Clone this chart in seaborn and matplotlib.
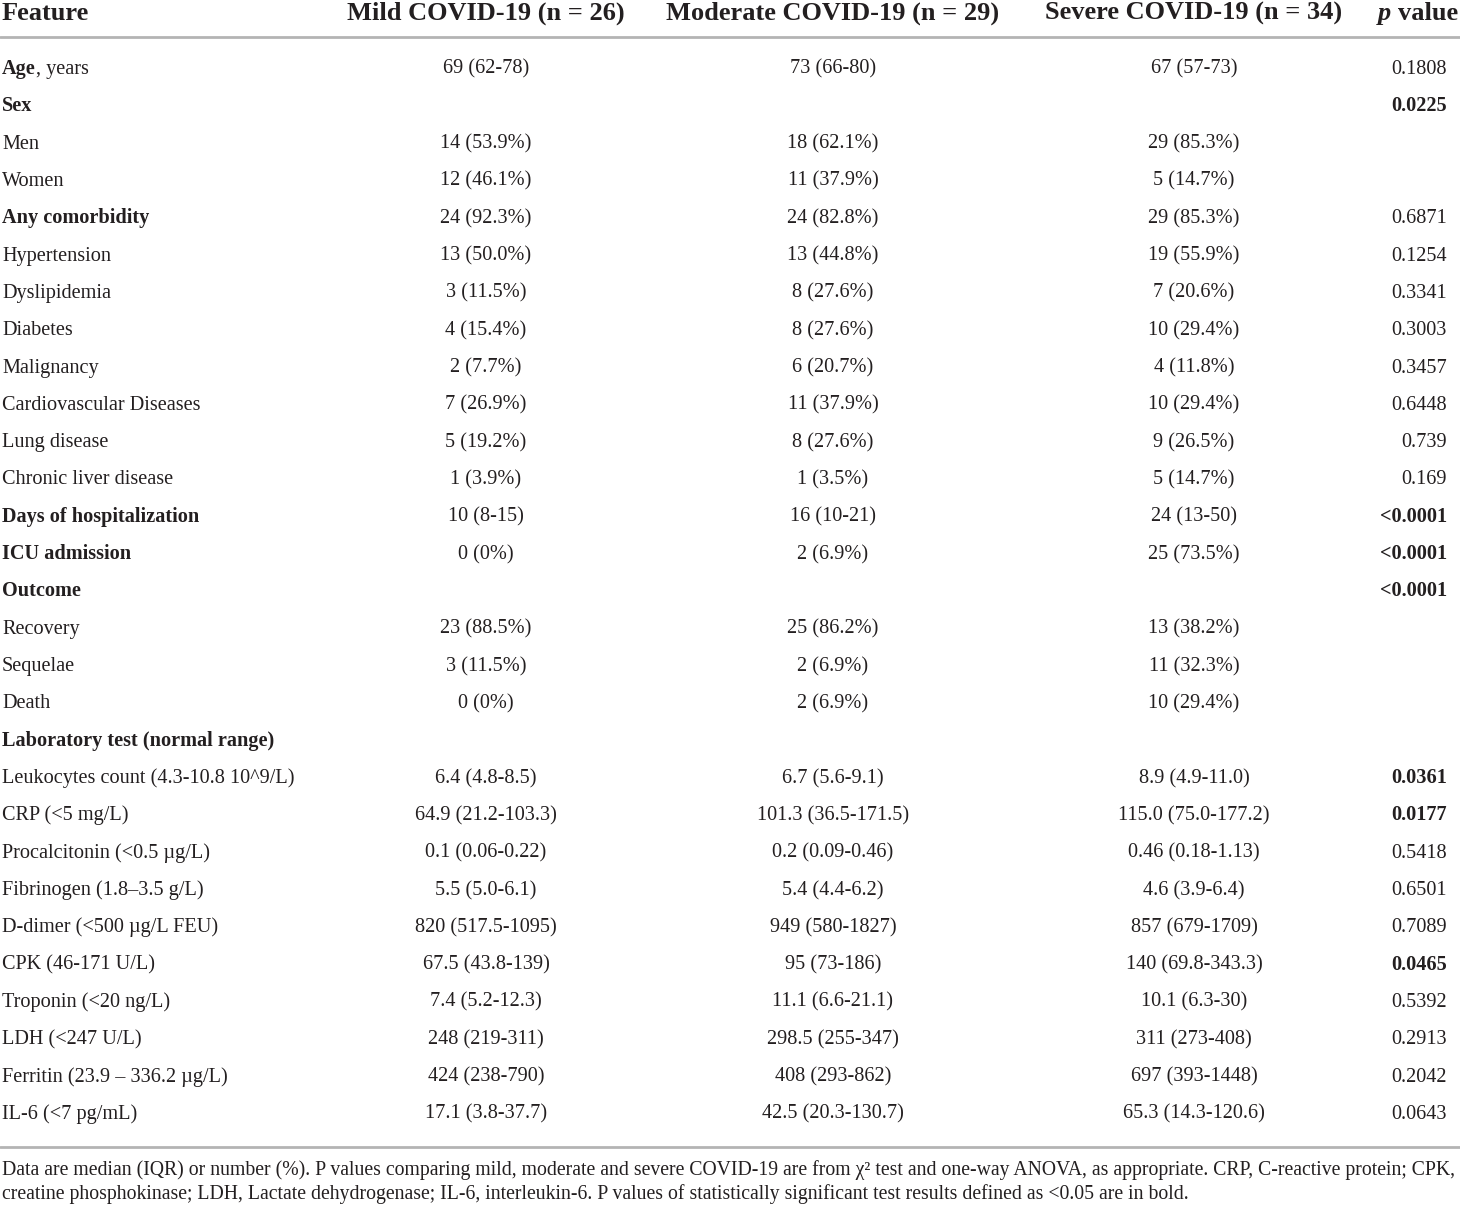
import seaborn as sns
import matplotlib.pyplot as plt

features = [
    "Age", "Sex", "Men", "Women", "Any comorbidity", "Hypertension", "Dyslipidemia",
    "Diabetes", "Malignancy", "Cardiovascular Diseases", "Lung disease",
    "Chronic liver disease", "Days of hospitalization", "ICU admission", "Outcome",
    "Recovery", "Sequelae", "Death", "Laboratory test (normal range)",
    "Leukocytes count (4.3-10.8 10^9/L)", "CRP (<5 mg/L)", "Procalcitonin (<0.5 µg/L)",
    "Fibrinogen (1.8–3.5 g/L)", "D-dimer (<500 µg/L FEU)", "CPK (46-171 U/L)",
    "Troponin (<20 ng/L)", "LDH (<247 U/L)", "Ferritin (23.9 – 336.2 µg/L)",
    "IL-6 (<7 pg/mL)",
]
feature_bold = [
    True, True, False, False, True, False, False, False, False, False, False, False,
    True, True, True, False, False, False, True,
    False, False, False, False, False, False, False, False, False, False,
]
mild = [
    "69 (62-78)", "", "14 (53.9%)", "12 (46.1%)", "24 (92.3%)", "13 (50.0%)", "3 (11.5%)",
    "4 (15.4%)", "2 (7.7%)", "7 (26.9%)", "5 (19.2%)", "1 (3.9%)", "10 (8-15)", "0 (0%)", "",
    "23 (88.5%)", "3 (11.5%)", "0 (0%)", "",
    "6.4 (4.8-8.5)", "64.9 (21.2-103.3)", "0.1 (0.06-0.22)", "5.5 (5.0-6.1)",
    "820 (517.5-1095)", "67.5 (43.8-139)", "7.4 (5.2-12.3)", "248 (219-311)",
    "424 (238-790)", "17.1 (3.8-37.7)",
]
moderate = [
    "73 (66-80)", "", "18 (62.1%)", "11 (37.9%)", "24 (82.8%)", "13 (44.8%)", "8 (27.6%)",
    "8 (27.6%)", "6 (20.7%)", "11 (37.9%)", "8 (27.6%)", "1 (3.5%)", "16 (10-21)", "2 (6.9%)", "",
    "25 (86.2%)", "2 (6.9%)", "2 (6.9%)", "",
    "6.7 (5.6-9.1)", "101.3 (36.5-171.5)", "0.2 (0.09-0.46)", "5.4 (4.4-6.2)",
    "949 (580-1827)", "95 (73-186)", "11.1 (6.6-21.1)", "298.5 (255-347)",
    "408 (293-862)", "42.5 (20.3-130.7)",
]
severe = [
    "67 (57-73)", "", "29 (85.3%)", "5 (14.7%)", "29 (85.3%)", "19 (55.9%)", "7 (20.6%)",
    "10 (29.4%)", "4 (11.8%)", "10 (29.4%)", "9 (26.5%)", "5 (14.7%)", "24 (13-50)", "25 (73.5%)", "",
    "13 (38.2%)", "11 (32.3%)", "10 (29.4%)", "",
    "8.9 (4.9-11.0)", "115.0 (75.0-177.2)", "0.46 (0.18-1.13)", "4.6 (3.9-6.4)",
    "857 (679-1709)", "140 (69.8-343.3)", "10.1 (6.3-30)", "311 (273-408)",
    "697 (393-1448)", "65.3 (14.3-120.6)",
]
pvals = [
    "0.1808", "0.0225", "", "", "0.6871", "0.1254", "0.3341", "0.3003", "0.3457", "0.6448",
    "0.739", "0.169", "<0.0001", "<0.0001", "<0.0001", "", "", "", "",
    "0.0361", "0.0177", "0.5418", "0.6501", "0.7089", "0.0465", "0.5392", "0.2913",
    "0.2042", "0.0643",
]
p_bold = [
    False, True, False, False, False, False, False, False, False, False, False, False,
    True, True, True, False, False, False, False,
    True, True, False, False, False, True, False, False, False, False,
]
headers = ["Feature", "Mild COVID-19 (n = 26)", "Moderate COVID-19 (n = 29)",
           "Severe COVID-19 (n = 34)"]
footnote = [
    "Data are median (IQR) or number (%). P values comparing mild, moderate and severe COVID-19 "
    "are from χ² test and one-way ANOVA, as appropriate. CRP, C-reactive protein; CPK,",
    "creatine phosphokinase; LDH, Lactate dehydrogenase; IL-6, interleukin-6. P values of "
    "statistically significant test results defined as <0.05 are in bold.",
]

sns.set_theme(style="white")
plt.rcParams['font.family'] = ['Liberation Serif', 'DejaVu Serif']
ink = "#231f20"
rule = "#b4b4b4"

fig = plt.figure(figsize=(14.6, 12.07), dpi=100)
ax = fig.add_axes([0, 0, 1, 1])
ax.set_xlim(0, 1460)
ax.set_ylim(30.52, -1.822)
ax.axis("off")

col_x = [2, 486, 833, 1194]
p_x = 1447
fs = 14.6
hfs = 19
base = 0.16      # baseline offset within a row
head_y = -1.29

# header
ax.text(col_x[0], head_y, headers[0], ha="left", va="baseline", fontsize=hfs,
        fontweight="bold", color=ink)
for x, h in zip(col_x[1:], headers[1:]):
    ax.text(x, head_y, h, ha="center", va="baseline", fontsize=hfs,
            fontweight="bold", color=ink)
hv = ax.text(1458, head_y, "value", ha="right", va="baseline", fontsize=hfs,
             fontweight="bold", color=ink)
ax.annotate("p ", xy=(0, 0), xycoords=hv, ha="right", va="bottom", fontsize=hfs,
            fontweight="bold", fontstyle="italic", color=ink)

ax.axhline(-0.83, color=rule, lw=2)
ax.axhline(28.91, color=rule, lw=2)

for i, name in enumerate(features):
    y = i + base
    t = ax.text(col_x[0], y, name, ha="left", va="baseline", fontsize=fs, color=ink,
                fontweight="bold" if feature_bold[i] else "normal")
    if name == "Age":
        ax.annotate(", years", xy=(1, 0), xycoords=t, ha="left", va="bottom",
                    fontsize=fs, color=ink)
    for x, col in zip(col_x[1:], [mild, moderate, severe]):
        ax.text(x, y, col[i], ha="center", va="baseline", fontsize=fs, color=ink)
    ax.text(p_x, y, pvals[i], ha="right", va="baseline", fontsize=fs, color=ink,
            fontweight="bold" if p_bold[i] else "normal")

for k, line in enumerate(footnote):
    ax.text(2, 29.66 + 0.645 * k, line, ha="left", va="baseline", fontsize=14.25, color=ink)

fig.savefig("out.png", dpi=100)
